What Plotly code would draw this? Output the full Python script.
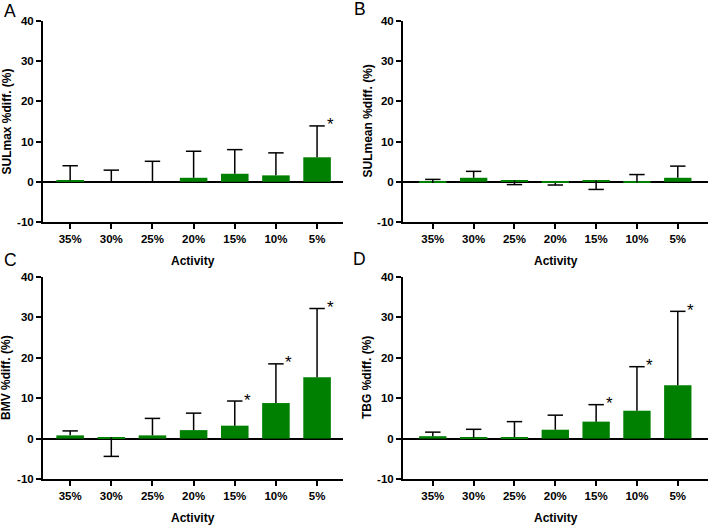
import plotly.graph_objects as go

W, H = 709, 527

categories = ["35%", "30%", "25%", "20%", "15%", "10%", "5%"]

sulmax_mean = [0.3, 0.0, 0.0, 1.0, 2.0, 1.6, 6.1]
sulmax_whisker = [4.0, 2.9, 5.1, 7.6, 8.0, 7.2, 13.9]
sulmax_stars = ["5%"]

sulmean_mean = [-0.3, 1.0, 0.3, -0.3, 0.3, -0.2, 1.0]
sulmean_whisker = [0.6, 2.6, -0.7, -0.8, -1.9, 1.8, 3.9]
sulmean_stars = []

bmv_mean = [0.8, 0.3, 0.8, 2.1, 3.2, 8.8, 15.2]
bmv_whisker = [1.9, -4.4, 5.0, 6.3, 9.3, 18.5, 32.2]
bmv_stars = ["15%", "10%", "5%"]

tbg_mean = [0.6, 0.2, 0.4, 2.2, 4.2, 6.9, 13.2]
tbg_whisker = [1.6, 2.3, 4.2, 5.8, 8.4, 17.8, 31.5]
tbg_stars = ["15%", "10%", "5%"]

y_ticks = [-10, 0, 10, 20, 30, 40]
y_tick_labels = ["-10", "0", "10", "20", "30", "40"]

panels = [
    ("A", "SULmax %diff. (%)", sulmax_mean, sulmax_whisker, sulmax_stars),
    ("B", "SULmean %diff. (%)", sulmean_mean, sulmean_whisker, sulmean_stars),
    ("C", "BMV %diff. (%)", bmv_mean, bmv_whisker, bmv_stars),
    ("D", "TBG %diff. (%)", tbg_mean, tbg_whisker, tbg_stars),
]

# pixel boxes of each plot area: (left, right, top, bottom)
boxes = [
    (43, 343, 21, 222),
    (403, 708, 21, 222),
    (43, 343, 277, 479),
    (403, 708, 277, 479),
]
xranges = [[-0.66, 6.63], [-0.73, 6.74], [-0.66, 6.63], [-0.73, 6.74]]
ytitle_x = [6, 367, 6, 367]
letter_pos = [(10, 11), (360, 9), (10, 260), (359, 259)]

FONT = "Liberation Sans, Arial, sans-serif"
GREEN = "#008000"

fig = go.Figure()
layout = dict(
    template="none",
    width=W, height=H,
    margin=dict(l=0, r=0, t=0, b=0, pad=0, autoexpand=False),
    paper_bgcolor="white", plot_bgcolor="white",
    showlegend=False,
    font=dict(family=FONT, color="black"),
)
annotations = []

for i, (letter, ytitle, mean, whisker, stars) in enumerate(panels):
    n = "" if i == 0 else str(i + 1)
    xa, ya = "x" + n, "y" + n
    L, R, T, B = boxes[i]

    fig.add_trace(go.Bar(
        x=categories, y=mean, xaxis=xa, yaxis=ya,
        marker=dict(color=GREEN, line=dict(width=0)), width=0.67,
    ))
    sx, sy = [], []
    for c, m, w in zip(categories, mean, whisker):
        sx += [c, c, None]
        sy += [m, w, None]
    fig.add_trace(go.Scatter(
        x=sx, y=sy, xaxis=xa, yaxis=ya, mode="lines",
        line=dict(color="black", width=1.5), hoverinfo="skip",
    ))
    fig.add_trace(go.Scatter(
        x=categories, y=whisker, xaxis=xa, yaxis=ya, mode="markers",
        marker=dict(symbol="line-ew", size=11, color="black",
                    line=dict(color="black", width=1.5)),
        hoverinfo="skip",
    ))
    for s in stars:
        k = categories.index(s)
        annotations.append(dict(
            x=s, y=whisker[k], xref=xa, yref=ya, text="*", showarrow=False,
            xshift=13, yshift=1, xanchor="center", yanchor="middle",
            font=dict(family=FONT, size=17, color="black"),
        ))

    axis_key = "xaxis" + n
    yaxis_key = "yaxis" + n
    layout[axis_key] = dict(
        domain=[L / W, R / W], anchor=ya, type="category", automargin=False,
        range=xranges[i], showline=True, linecolor="black", linewidth=2,
        ticks="outside", ticklen=5, tickwidth=2, tickcolor="black",
        showgrid=False, zeroline=False, fixedrange=True,
        tickfont=dict(family=FONT, size=11.5, color="black", weight="bold"),
    )
    layout[yaxis_key] = dict(
        domain=[1 - B / H, 1 - T / H], anchor=xa, automargin=False,
        range=[-10, 40], tickmode="array", tickvals=y_ticks,
        ticktext=y_tick_labels,
        showline=True, linecolor="black", linewidth=2,
        ticks="outside", ticklen=5, tickwidth=2, tickcolor="black",
        showgrid=False, zeroline=True, zerolinecolor="black", zerolinewidth=2,
        fixedrange=True,
        tickfont=dict(family=FONT, size=11.5, color="black", weight="bold"),
    )
    # axis titles
    annotations.append(dict(
        x=(L + R) / 2 / W, y=1 - (B + 39) / H, xref="paper", yref="paper",
        text="Activity", showarrow=False, xanchor="center", yanchor="middle",
        font=dict(family=FONT, size=12, color="black", weight="bold"),
    ))
    annotations.append(dict(
        x=ytitle_x[i] / W, y=1 - (T + B) / 2 / H, xref="paper", yref="paper",
        text=ytitle, showarrow=False, textangle=-90,
        xanchor="center", yanchor="middle",
        font=dict(family=FONT, size=12, color="black", weight="bold"),
    ))
    lx, ly = letter_pos[i]
    annotations.append(dict(
        x=lx / W, y=1 - ly / H, xref="paper", yref="paper",
        text=letter, showarrow=False, xanchor="center", yanchor="middle",
        font=dict(family=FONT, size=17.5, color="black"),
    ))

layout["annotations"] = annotations
fig.update_layout(**layout)
fig.write_html(
    "out.html",
    config={"displayModeBar": False},
    post_script="document.body.style.margin='0';document.body.style.overflow='hidden';",
)
